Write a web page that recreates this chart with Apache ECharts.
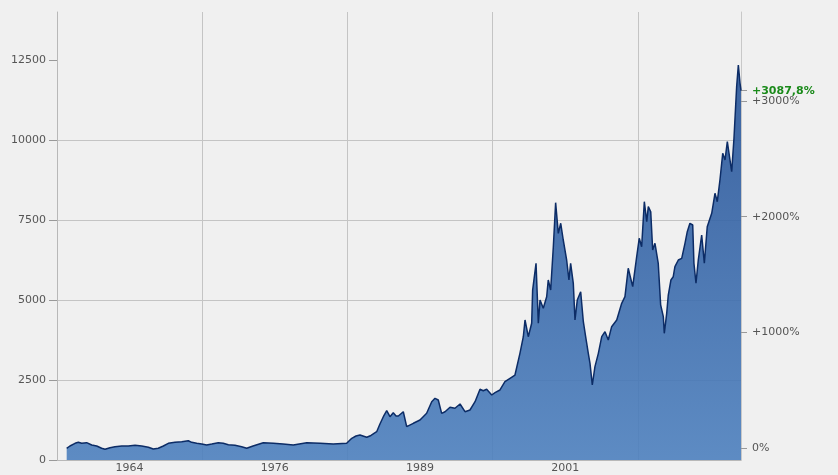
<!DOCTYPE html>
<html>
<head>
<meta charset="utf-8">
<script src="https://cdn.jsdelivr.net/npm/echarts@6/dist/echarts.min.js"></script>
<style>
html,body{margin:0;padding:0;background:#f0f0f0;}
#c{width:838px;height:475px;}
</style>
</head>
<body>
<div id="c"></div>
<script>
// Index history (decimal year, index level)
const years = [1959.80,1960.07,1960.49,1960.76,1961.04,1961.45,1961.87,1962.28,1962.69,1962.97,1963.38,1963.79,1964.35,1964.89,1965.45,1966.00,1966.55,1966.96,1967.37,1967.79,1968.20,1968.75,1969.31,1969.85,1970.13,1970.55,1970.96,1971.37,1971.79,1972.33,1972.74,1973.16,1973.71,1974.26,1974.68,1975.20,1976.05,1976.88,1977.68,1978.53,1979.64,1980.74,1981.83,1982.94,1983.36,1983.71,1984.04,1984.60,1984.95,1985.42,1985.69,1985.97,1986.25,1986.52,1986.79,1987.02,1987.21,1987.62,1987.90,1988.45,1989.00,1989.55,1989.97,1990.24,1990.51,1990.79,1991.07,1991.48,1991.89,1992.31,1992.72,1993.13,1993.55,1993.96,1994.23,1994.51,1994.93,1995.20,1995.61,1996.02,1996.44,1996.85,1997.26,1997.54,1997.68,1997.95,1998.23,1998.31,1998.59,1998.78,1998.92,1999.19,1999.47,1999.60,1999.80,2000.02,2000.21,2000.43,2000.63,2000.84,2001.12,2001.31,2001.45,2001.67,2001.81,2002.00,2002.28,2002.50,2002.69,2002.91,2003.05,2003.24,2003.46,2003.74,2004.02,2004.29,2004.56,2004.84,2005.26,2005.67,2005.94,2006.21,2006.36,2006.58,2006.91,2007.12,2007.32,2007.54,2007.74,2007.87,2008.07,2008.23,2008.42,2008.69,2008.89,2009.11,2009.19,2009.39,2009.52,2009.74,2009.93,2010.07,2010.35,2010.63,2010.90,2011.09,2011.31,2011.54,2011.64,2011.81,2012.00,2012.28,2012.50,2012.74,2013.11,2013.38,2013.57,2013.79,2014.02,2014.21,2014.40,2014.56,2014.76,2014.95,2015.17,2015.31,2015.45,2015.53];
const values = [362,438,522,553,522,541,469,438,366,334,384,416,438,438,459,438,397,344,366,438,522,553,572,603,553,522,500,469,500,541,522,478,459,416,366,438,541,522,500,469,541,522,500,522,678,750,781,709,766,884,1125,1353,1541,1353,1478,1375,1375,1509,1041,1147,1250,1459,1822,1928,1875,1459,1509,1647,1616,1750,1509,1563,1822,2209,2166,2209,2031,2103,2188,2447,2553,2656,3334,3853,4375,3853,4272,5313,6147,4272,5000,4741,5103,5625,5313,6666,8041,7084,7397,6875,6250,5625,6147,5522,4375,5000,5259,4322,3853,3334,3022,2344,2916,3334,3853,4009,3750,4166,4375,4897,5103,5991,6041,5416,6353,6928,6666,8072,7447,7916,7759,6563,6772,6147,4844,4478,3959,4584,5156,5625,5728,6041,6250,6303,6772,7134,7397,7344,6147,5522,6250,7031,6147,7291,7709,8334,8072,8750,9584,9375,9947,9531,9009,10053,11666,12344,11772,11540];

// Axis ranges and tick labels
const xStartYear = 1959;        // first vertical grid line
const xEndYear = 2015.53;       // right edge of plot
const xGridStep = 12;           // years between vertical grid lines
const xTickLabels = ['1964', '1976', '1989', '2001'];
const yMax = 14000;
const yStep = 2500;
const yTicks = [0, 2500, 5000, 7500, 10000, 12500];
const pctTicks = [0, 1000, 2000, 3000];

const base = values[0];
const last = values[values.length - 1];
const lastPct = (last / base - 1) * 100;
const lastPctText = '+' + (Math.round(lastPct * 10) / 10).toFixed(1).replace('.', ',') + '%';

const seriesData = years.map((y, i) => [y - xStartYear, values[i]]);
const xLabelPos = xTickLabels.map((_, i) => xGridStep / 2 + i * xGridStep);

const font = 'DejaVu Sans, Verdana, sans-serif';
const gridColor = '#c4c4c4';
const txtColor = '#555555';

const chart = echarts.init(document.getElementById('c'), null, {renderer: 'canvas'});
chart.setOption({
  backgroundColor: '#f0f0f0',
  animation: false,
  grid: {left: 57, right: 97, top: 12, bottom: 15, containLabel: false},
  xAxis: {
    type: 'value',
    min: 0,
    max: xEndYear - xStartYear,
    interval: xGridStep,
    axisLine: {show: true, lineStyle: {color: '#b8b8b8', width: 1}},
    axisTick: {show: false},
    splitLine: {show: true, lineStyle: {color: gridColor, width: 1}},
    axisLabel: {
      customValues: xLabelPos,
      formatter: function (v) {
        const i = xLabelPos.findIndex(p => Math.abs(p - v) < 1e-6);
        return i >= 0 ? xTickLabels[i] : '';
      },
      color: txtColor, fontFamily: font, fontSize: 11, margin: 3
    }
  },
  yAxis: [{
    type: 'value',
    min: 0, max: yMax, interval: yStep,
    position: 'left',
    axisLine: {show: true, lineStyle: {color: '#b8b8b8', width: 1}},
    axisTick: {show: true, customValues: yTicks, length: 8, lineStyle: {color: '#999'}},
    splitLine: {show: true, showMaxLine: false, showMinLine: false, lineStyle: {color: gridColor, width: 1}},
    axisLabel: {
      customValues: yTicks,
      formatter: function (v) { return String(v); },
      color: txtColor, fontFamily: font, fontSize: 11, margin: 11
    }
  }, {
    type: 'value',
    position: 'right',
    min: -100,
    max: (yMax / base - 1) * 100,
    axisLine: {show: true, lineStyle: {color: '#c8c8c8', width: 1}},
    axisTick: {show: true, customValues: pctTicks.concat([lastPct]), length: 6, lineStyle: {color: '#999'}},
    splitLine: {show: false},
    axisLabel: {
      customValues: pctTicks,
      fontFamily: font, fontSize: 11, margin: 11, color: txtColor,
      formatter: function (v) { return (v > 0 ? '+' : '') + v + '%'; }
    }
  }],
  series: [{
    type: 'line',
    data: seriesData,
    yAxisIndex: 0,
    showSymbol: false,
    symbol: 'none',
    lineStyle: {color: '#0c2c66', width: 1.5},
    areaStyle: {
      opacity: 0.9,
      color: new echarts.graphic.LinearGradient(0, 0, 0, 1, [
        {offset: 0, color: '#275397'},
        {offset: 1, color: '#4d80be'}
      ])
    },
    endLabel: {
      show: true,
      formatter: function () { return lastPctText; },
      color: '#1a8a1a',
      fontFamily: font,
      fontSize: 11,
      fontWeight: 'bold',
      distance: 11
    },
    z: 3
  }]
});
</script>
</body>
</html>
